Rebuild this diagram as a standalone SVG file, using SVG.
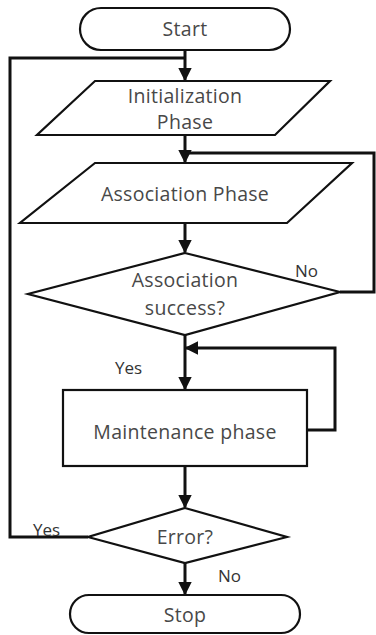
<svg xmlns="http://www.w3.org/2000/svg" width="376" height="635" viewBox="0 0 376 635">
<style>
.s{fill:#fff;stroke:#111;stroke-width:2.2}
.t{font-family:"Open Sans","Liberation Sans",sans-serif;font-size:19.5px;fill:#484848;text-anchor:middle;letter-spacing:0.3px}
.l{font-family:"Open Sans","Liberation Sans",sans-serif;font-size:17px;fill:#333}
.c{fill:none;stroke:#111;stroke-width:3}
</style>
<defs>
<marker id="a" viewBox="0 0 10 10" refX="9" refY="5" markerWidth="4.5" markerHeight="4.5" orient="auto" markerUnits="strokeWidth">
<path d="M0,0 L10,5 L0,10 z" fill="#111"/>
</marker>
</defs>
<rect width="376" height="635" fill="#fff"/>
<g id="connectors">
<path class="c" d="M185,50 V80" marker-end="url(#a)"/>
<path class="c" d="M88,537 H10 V58 H185"/>
<path class="c" d="M185,135 V162" marker-end="url(#a)"/>
<path class="c" d="M340,292 H374 V153 H185"/>
<path class="c" d="M185,223 V252" marker-end="url(#a)"/>
<path class="c" d="M185,335 V389" marker-end="url(#a)"/>
<path class="c" d="M307,430 H335 V348 H186" marker-end="url(#a)"/>
<path class="c" d="M185,466 V507" marker-end="url(#a)"/>
<path class="c" d="M185,563 V594" marker-end="url(#a)"/>
</g>
<g id="start">
<rect class="s" x="80" y="8" width="210" height="42" rx="21"/>
<text class="t" x="185" y="36">Start</text>
</g>
<g id="init">
<polygon class="s" points="95,81 330,81 275,135 37,135"/>
<text class="t" x="185" y="103">Initialization</text>
<text class="t" x="185" y="129">Phase</text>
</g>
<g id="assoc">
<polygon class="s" points="95,163 352,163 287,223 20,223"/>
<text class="t" x="185" y="201">Association Phase</text>
</g>
<g id="success">
<polygon class="s" points="185,253 340,292 185,335 28,294"/>
<text class="t" x="185" y="287">Association</text>
<text class="t" x="185" y="315">success?</text>
</g>
<g id="maint">
<rect class="s" x="63" y="390" width="244" height="76"/>
<text class="t" x="185" y="439">Maintenance phase</text>
</g>
<g id="error">
<polygon class="s" points="185,508 287,537 185,563 88,537"/>
<text class="t" x="185" y="544">Error?</text>
</g>
<g id="stop">
<rect class="s" x="70" y="595" width="230" height="38" rx="19"/>
<text class="t" x="185" y="622">Stop</text>
</g>
<text class="l" x="295" y="277">No</text>
<text class="l" x="115" y="374">Yes</text>
<text class="l" x="33" y="536">Yes</text>
<text class="l" x="218" y="582">No</text>
</svg>
